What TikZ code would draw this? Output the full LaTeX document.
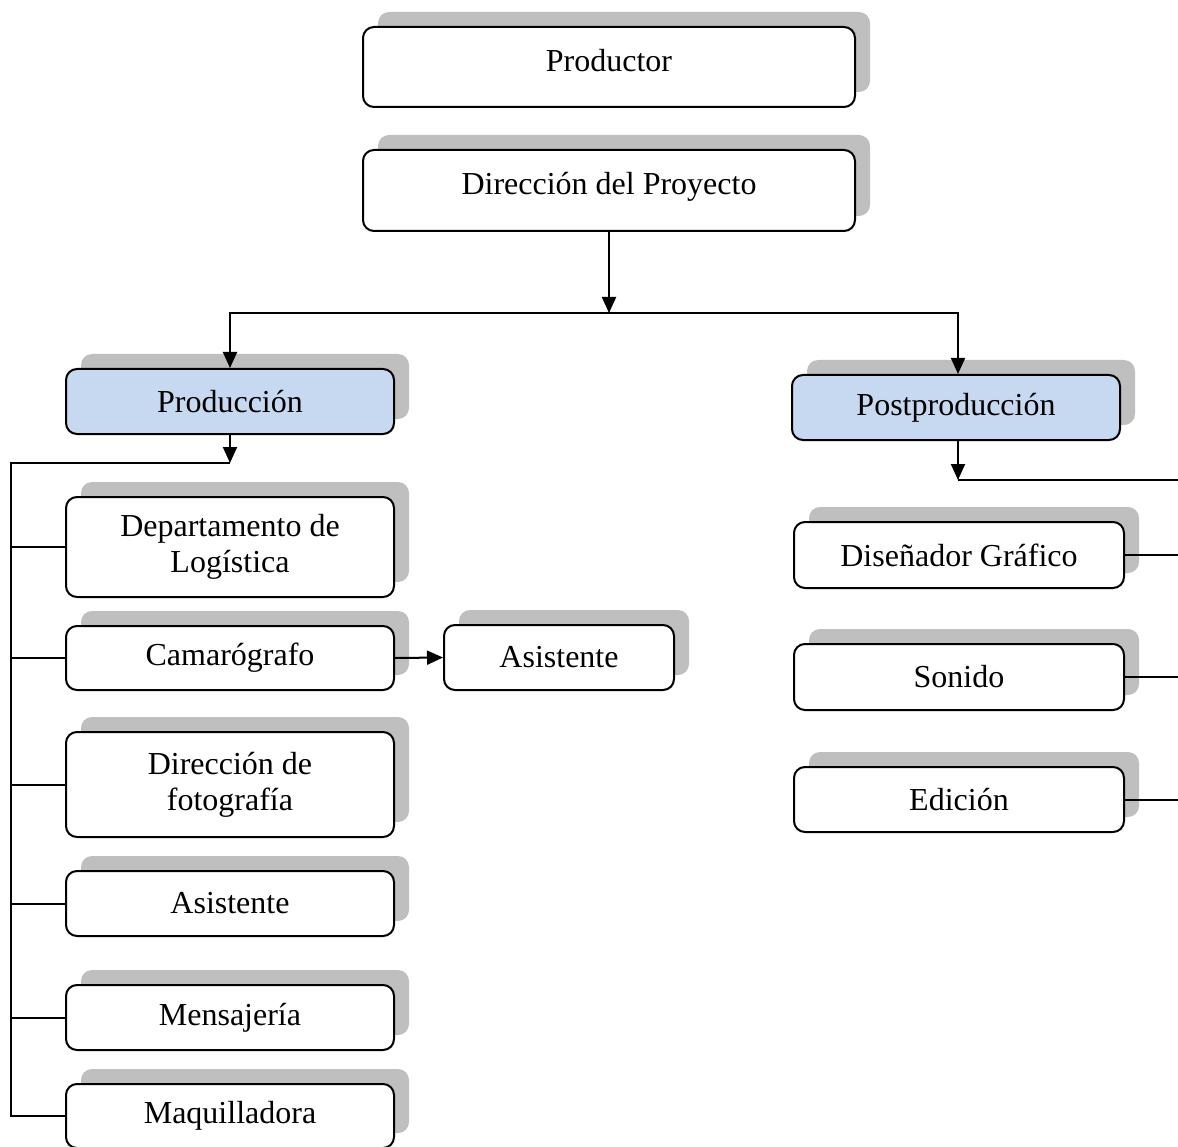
\documentclass[tikz,border=0pt]{standalone}
\usepackage{fontspec}
\setmainfont{Liberation Serif}
\usetikzlibrary{arrows.meta,shadows}
\definecolor{shgray}{HTML}{BFBFBF}
\definecolor{lblue}{HTML}{C6D9F1}
\begin{document}
\begin{tikzpicture}[x=1pt,y=-1pt,
  box/.style={draw=black,line width=2pt,rounded corners=11pt,fill=white,
    inner sep=0pt,align=center,font=\fontsize{32}{36}\selectfont,
    general shadow={shadow xshift=15pt,shadow yshift=15pt,fill=shgray,draw=none}},
  bluebox/.style={box,fill=lblue},
  conn/.style={line width=2pt},
  arr/.style={conn,-{Triangle[length=16pt,width=14pt]}}]
\useasboundingbox (0,0) rectangle (1178,1147);
% nodes
\node[box,minimum width=492pt,minimum height=80pt,text depth=14pt] (prod) at (609,67) {Productor};
\node[box,minimum width=492pt,minimum height=81pt,text depth=14pt] (dir) at (609,190.5) {Dirección del Proyecto};
\node[bluebox,minimum width=328pt,minimum height=65pt] (pro) at (230,401.5) {Producción};
\node[bluebox,minimum width=328pt,minimum height=65pt] (post) at (956,407.5) {Postproducción};
\node[box,minimum width=328pt,minimum height=100pt] (dep) at (230,547) {Departamento de\\Logística};
\node[box,minimum width=328pt,minimum height=64pt] (cam) at (230,658) {Camarógrafo};
\node[box,minimum width=230pt,minimum height=65pt] (asa) at (559,657.5) {Asistente};
\node[box,minimum width=328pt,minimum height=105pt] (dfo) at (230,784.5) {Dirección de\\fotografía};
\node[box,minimum width=328pt,minimum height=65pt] (asb) at (230,903.5) {Asistente};
\node[box,minimum width=328pt,minimum height=65pt] (men) at (230,1017.5) {Mensajería};
\node[box,minimum width=328pt,minimum height=64pt] (maq) at (230,1116) {Maquilladora};
\node[box,minimum width=330pt,minimum height=66pt] (dis) at (959,555) {Diseñador Gráfico};
\node[box,minimum width=330pt,minimum height=66pt] (son) at (959,677) {Sonido};
\node[box,minimum width=330pt,minimum height=65pt] (edi) at (959,799.5) {Edición};
% junctions
\coordinate (j1) at (609,313);
\coordinate (j2) at (230,463);
\coordinate (lt) at (11,463);
\coordinate (j3) at (958,480);
\coordinate (re) at (1180,480);
% connectors
\draw[arr] (dir.south) -- (j1);
\draw[arr] (j1) -| (pro.north);
\draw[arr] (j1) -| ([xshift=2pt]post.north);
\draw[arr] (pro.south) -- (j2);
\draw[conn] (j2) -- (lt) -- (lt |- maq.west) -- (maq.west);
\draw[conn] (lt |- dep.west) -- (dep.west);
\draw[conn] (lt |- cam.west) -- (cam.west);
\draw[conn] (lt |- dfo.west) -- (dfo.west);
\draw[conn] (lt |- asb.west) -- (asb.west);
\draw[conn] (lt |- men.west) -- (men.west);
\draw[arr] (cam.east) -- (asa.west);
\draw[arr] ([xshift=2pt]post.south) -- (j3);
\draw[conn] (j3) -- (re);
\draw[conn] (dis.east) -- (dis.east -| re);
\draw[conn] (son.east) -- (son.east -| re);
\draw[conn] (edi.east) -- (edi.east -| re);
\end{tikzpicture}
\end{document}
